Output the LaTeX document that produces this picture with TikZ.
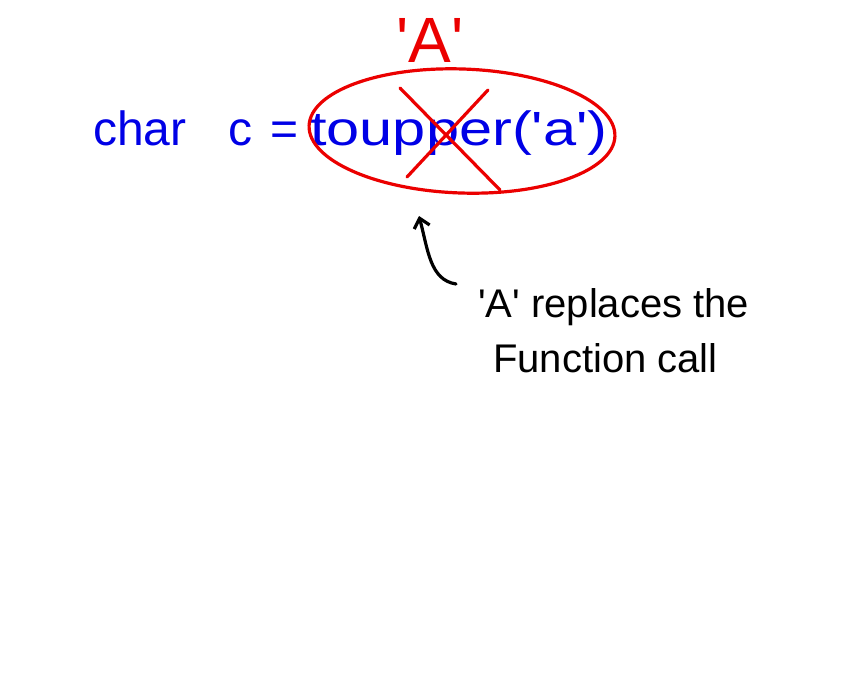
\documentclass[tikz,border=0pt]{standalone}
\usepackage{fontspec}
\newfontfamily\hand{Liberation Sans}
\usetikzlibrary{arrows.meta,shapes.geometric}
\definecolor{penblue}{RGB}{0,0,230}
\definecolor{penred}{RGB}{235,0,0}
\begin{document}
\begin{tikzpicture}[x=1pt,y=-1pt,
  code/.style={inner sep=0pt,text=penblue,font=\hand\fontsize{48}{50}\selectfont},
  redmark/.style={draw=penred,line width=3.2pt,line cap=round},
  note/.style={inner sep=0pt,font=\hand\fontsize{40}{42}\selectfont},
  pen/.style={line width=3.2pt,line cap=round}]
\useasboundingbox[fill=white] (0,0) rectangle (860,675);
% blue code
\node[code,anchor=base west] (w1) at (93,145) {char};
\node[code,anchor=base west] (w2) at (228,145) {c};
\node[code,anchor=base west] (w3) at (270,145) {=};
\node[code,anchor=base west] (w4) at (310,145) {\scalebox{1.24}[1]{toupper('a')}};
% red ellipse and cross
\node[ellipse,redmark,minimum width=306pt,minimum height=124pt,rotate=-2] (ell) at (462,131) {};
\coordinate (x1a) at (400,88);
\coordinate (x1b) at (500,190);
\coordinate (x2a) at (488,90);
\coordinate (x2b) at (407,177);
\draw[redmark] (x1a) -- (x1b);
\draw[redmark] (x2a) -- (x2b);
% red A
\node[inner sep=0pt,text=penred,font=\hand\fontsize{64}{66}\selectfont,anchor=base] (newA) at (430,62) {'A'};
% note
\node[note,anchor=base west] (n1) at (478,317) {'A' replaces the};
\node[note,anchor=base west] (n2) at (493,372) {Function call};
% arrow
\coordinate (as) at (456,284);
\coordinate (ae) at (419,216);
\draw[pen,-{Straight Barb[length=9pt,width=16pt]}] (as) .. controls (430,280) and (428,250) .. (ae);
\end{tikzpicture}
\end{document}
